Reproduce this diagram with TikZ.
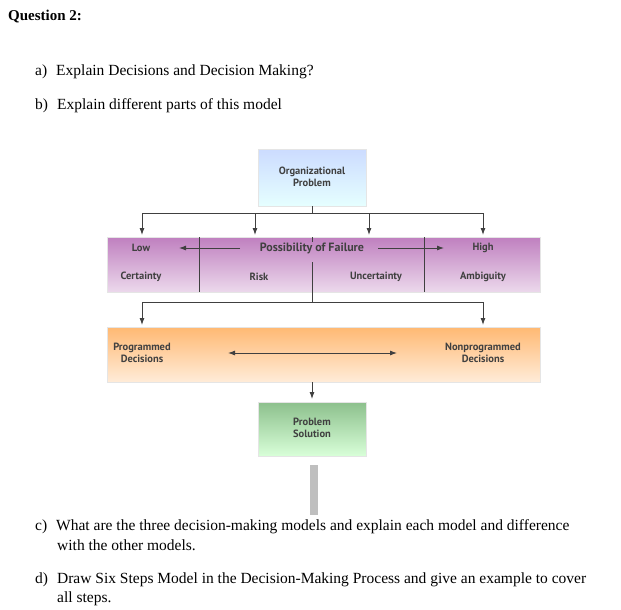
\documentclass[tikz,border=0pt]{standalone}
\usepackage{fontspec}
\usetikzlibrary{arrows.meta}
\setmainfont{Liberation Serif}
\newfontfamily\dsans{PT Sans}
\begin{document}
\begin{tikzpicture}[x=1pt,y=-1pt,
  q/.style={anchor=base west,font=\fontsize{15.5}{17}\selectfont,inner sep=0},
  lab/.style={font=\dsans\bfseries\fontsize{10.5}{12}\selectfont,text=black!75,align=center,inner sep=0},
  con/.style={draw=black!75,line width=0.9pt},
  arr/.style={con,-{Latex[length=7pt,width=5pt]}},
  bx/.style={draw=black!10,line width=1pt}]
\useasboundingbox (0,0) rectangle (621,610);
\fill[white] (0,0) rectangle (621,610);
\node[q,font=\bfseries\fontsize{15}{17}\selectfont] (qt) at (8,21) {Question 2:};
\node[q] (a) at (35,75) {a)\hspace{9pt}Explain Decisions and Decision Making?};
\node[q] (b) at (35,109) {b)\hspace{9pt}Explain different parts of this model};
% boxes
\shade[top color=cyan!30!blue!20,bottom color=cyan!10!white] (258,149) rectangle (366,206);
\draw[bx] (258,149) rectangle (366,206);
\node[lab] (op) at (312,177) {Organizational\\Problem};
\shade[top color=violet!50,bottom color=violet!15] (107,237) rectangle (540,292);
\draw[bx] (107,237) rectangle (540,292);
\shade[top color=orange!55,bottom color=orange!15] (107,327) rectangle (540,382);
\draw[bx] (107,327) rectangle (540,382);
\shade[top color=green!45!black!45!white,bottom color=green!15!white] (258,402) rectangle (366,456);
\draw[bx] (258,402) rectangle (366,456);
\node[lab] (ps) at (312,428) {Problem\\Solution};
% purple content
\draw[con] (199,237) -- (199,292);
\draw[con] (424,237) -- (424,292);
\draw[con] (312,262) -- (312,292);
\draw[con] (312,237) -- (312,242);
\node[lab] (low) at (141,248) {Low};
\node[lab] (cer) at (141,277) {Certainty};
\node[lab,font=\dsans\bfseries\fontsize{12}{14}\selectfont] (pf) at (312,248) {Possibility of Failure};
\node[lab] (risk) at (259,277) {Risk};
\node[lab] (unc) at (376,277) {Uncertainty};
\node[lab] (high) at (483,248) {High};
\node[lab] (amb) at (483,277) {Ambiguity};
\coordinate (pl1) at (240,248); \coordinate (pl2) at (179,248);
\coordinate (pr1) at (378,248); \coordinate (pr2) at (444,248);
\draw[arr] (pl1) -- (pl2);
\draw[arr] (pr1) -- (pr2);
% orange content
\node[lab] (pd) at (142,353) {Programmed\\Decisions};
\node[lab] (nd) at (483,353) {Nonprogrammed\\Decisions};
\coordinate (d1) at (228,353); \coordinate (d2) at (397,353);
\draw[con,{Latex[length=7pt,width=5pt]}-{Latex[length=7pt,width=5pt]}] (d1) -- (d2);
% connectors top
\coordinate (t0) at (312,213);
\draw[con] (op.south |- 0,206) -- (t0);
\draw[con] (142,213) -- (483,213);
\foreach \x in {142,255,369,483} \draw[arr] (\x,213) -- (\x,235);
% connectors middle
\draw[con] (312,292) -- (312,302);
\draw[con] (142,302) -- (483,302);
\foreach \x in {142,483} \draw[arr] (\x,302) -- (\x,325);
\draw[arr] (312,382) -- (312,399);
% gray bar
\fill[black!25] (310,465) rectangle (318,515);
\node[q] (c1) at (35,530) {c)\hspace{9pt}What are the three decision-making models and explain each model and difference};
\node[q] (c2) at (57,550) {with the other models.};
\node[q] (d1t) at (35,583) {d)\hspace{9pt}Draw Six Steps Model in the Decision-Making Process and give an example to cover};
\node[q] (d2t) at (57,602) {all steps.};
\end{tikzpicture}
\end{document}
